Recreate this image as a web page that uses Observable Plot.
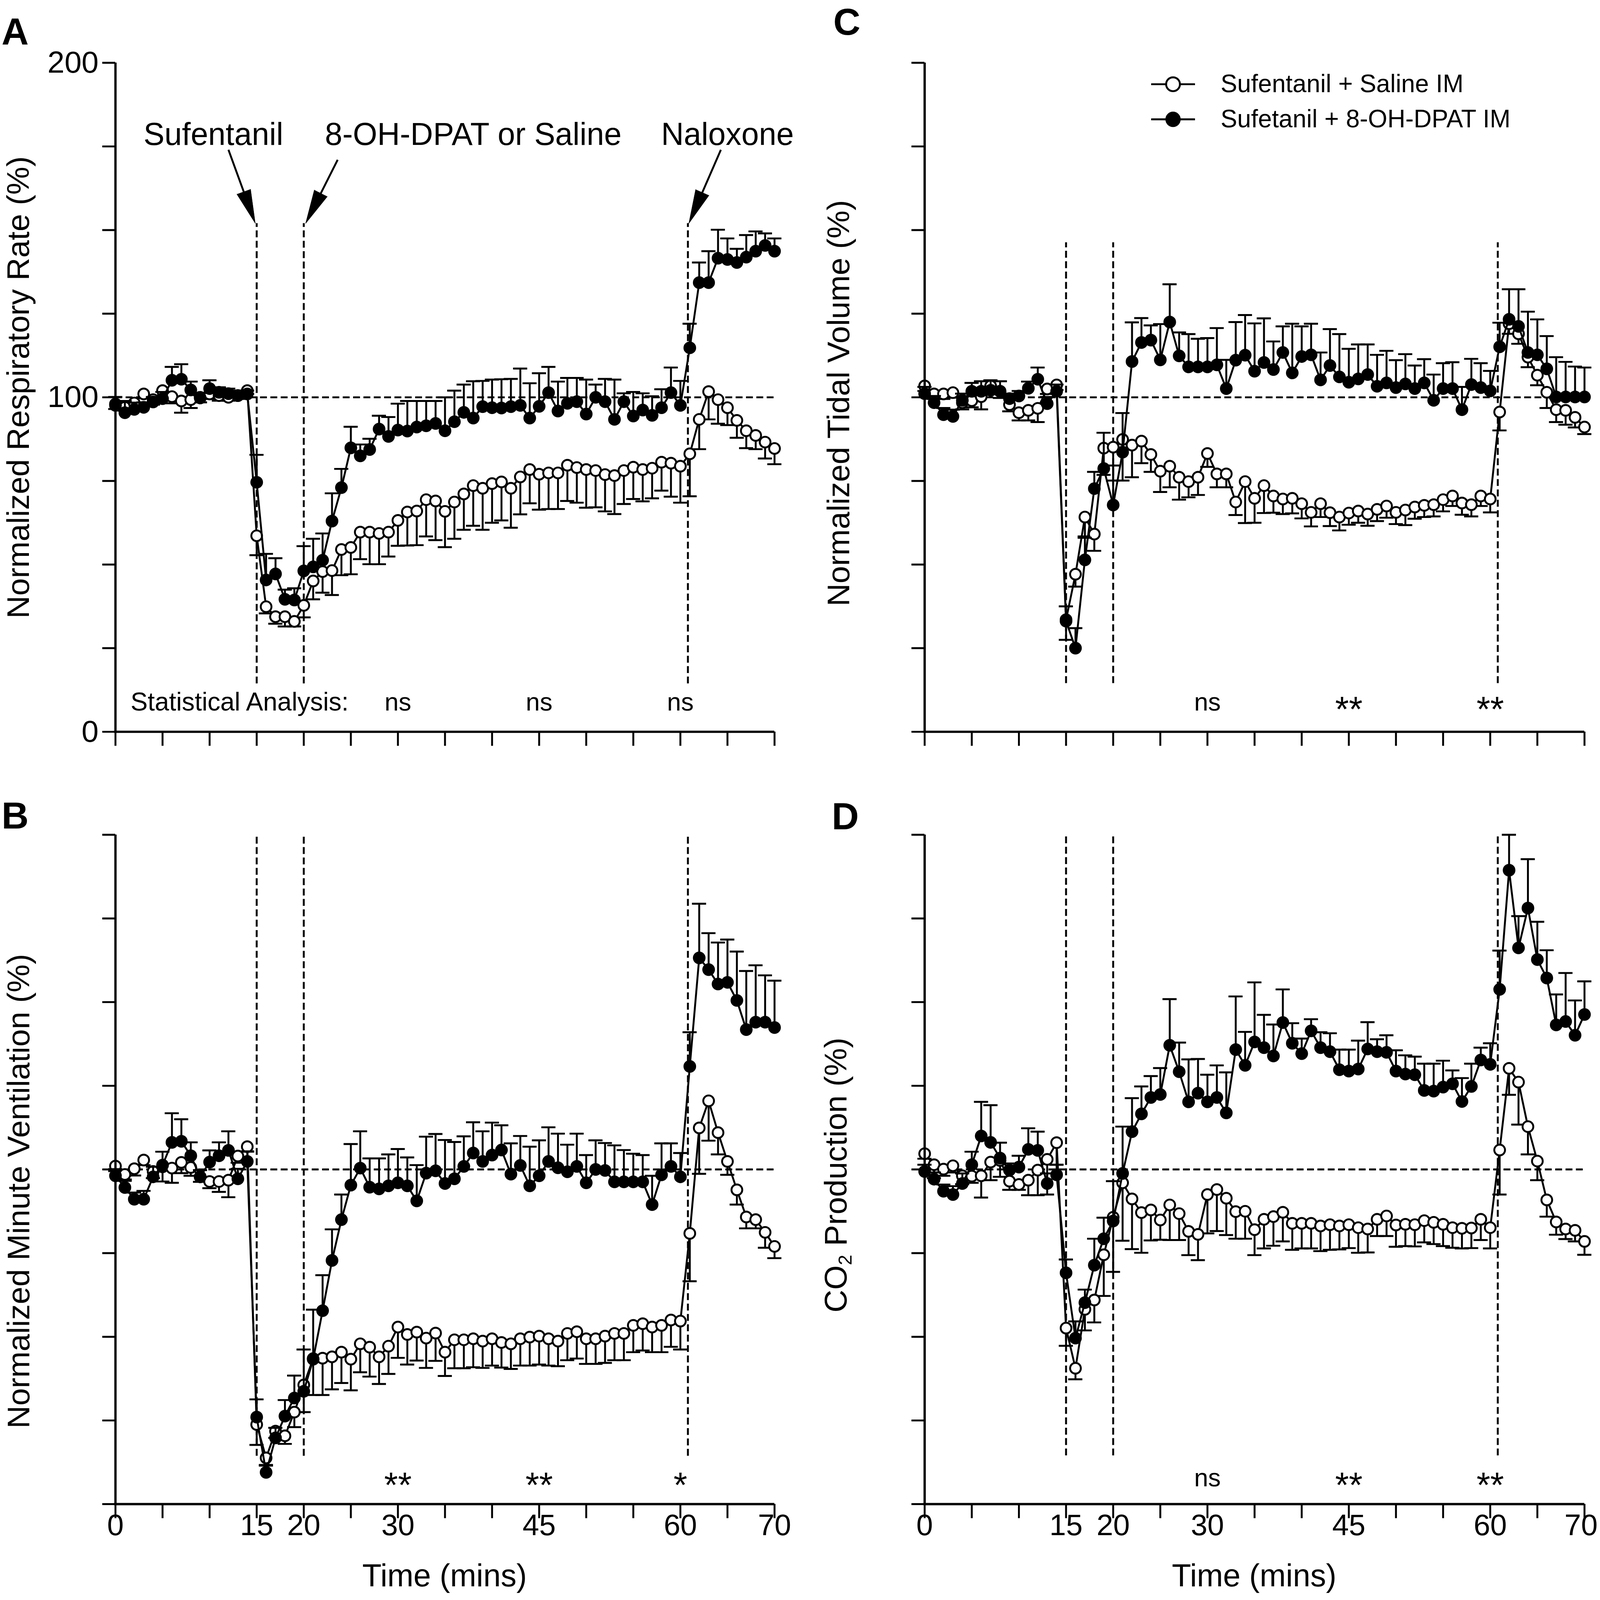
<!DOCTYPE html>
<html><head><meta charset="utf-8">
<script src="https://cdn.jsdelivr.net/npm/d3@7"></script>
<script src="https://cdn.jsdelivr.net/npm/@observablehq/plot@0.6"></script>
<style>
html,body{margin:0;padding:0;background:#fff;overflow:hidden;}
#fig{position:absolute;left:0;top:0;width:4178px;height:4164px;background:#fff;font-family:"Liberation Sans",Arial,Helvetica,sans-serif;color:#000;overflow:hidden;transform-origin:0 0;}
.panel{position:absolute;}
.letter{position:absolute;font-weight:bold;font-size:98px;line-height:1;}
.ytitle{position:absolute;font-size:82px;line-height:1;white-space:nowrap;transform:translate(-50%,-50%) rotate(-90deg);}
.xtitle{position:absolute;font-size:82px;line-height:1;white-space:nowrap;transform:translate(-50%,-50%);}
.sub{font-size:0.6em;vertical-align:-0.28em;}
</style></head>
<body><div id="fig">
<div class="letter" style="left:4px;top:33px">A</div>
<div class="letter" style="left:2176px;top:7px">C</div>
<div class="letter" style="left:4px;top:2073px">B</div>
<div class="letter" style="left:2172px;top:2075px">D</div>
<div class="ytitle" style="left:47px;top:1008px">Normalized Respiratory Rate (%)</div>
<div class="ytitle" style="left:2190px;top:1049px">Normalized Tidal Volume (%)</div>
<div class="ytitle" style="left:48px;top:3100px">Normalized Minute Ventilation (%)</div>
<div class="ytitle" style="left:2186px;top:3058px">CO<span class="sub">2</span> Production (%)</div>
<div class="xtitle" style="left:1161px;top:4100px">Time (mins)</div>
<div class="xtitle" style="left:3275px;top:4100px">Time (mins)</div>
</div>
<script>
// ---------- data ----------
const time = [0,1,2,3,4,5,6,7,8,9,10,11,12,13,14,15,16,17,18,19,20,21,22,23,24,25,26,27,28,29,30,31,32,33,34,35,36,37,38,39,40,41,42,43,44,45,46,47,48,49,50,51,52,53,54,55,56,57,58,59,60,61,62,63,64,65,66,67,68,69,70];
const xTicks = [0,5,10,15,20,25,30,35,40,45,50,55,60,65,70];
const xTickLabels = [0,15,20,30,45,60,70];
const yTicks = [0,25,50,75,100,125,150,175,200];
const yTickLabels = [0,100,200];
const seriesNames = ["Sufentanil + Saline IM", "Sufetanil + 8-OH-DPAT IM"];
const eventTimes = [15, 20, 60.8];

// A: respiratory rate
const aSal = [98,97,98.3,101,99.3,102,100.2,98.9,99.3,100,101,100.5,100,100.5,102,
 58.6,37.4,34.4,34.4,33,
 37.8,45.1,47.9,48.2,54.5,55.1,59.7,59.7,59.3,59.7,
 63.2,65.7,66,69.4,69,65.9,68.7,71.1,73.6,72.8,
 74.2,74.7,72.8,76.2,78.4,77,77.4,77.4,79.7,79,
 78.4,78.1,76.9,76.6,78.1,79.1,78.4,78.8,80.6,80.3,
 79.4,83.1,93.4,101.7,99.3,96.9,93.1,90,88.6,86.6,84.7];
const aSalErr = [1.5,1,1,1,1.5,1.5,2,3.5,2.5,1.5,1.5,1.5,1,1,1,
 5.8,2,2.1,2.9,1.5,
 3.6,5.5,6.3,7.3,7.7,8,8.1,9.6,9.2,7.3,
 7.6,10,10.2,11,11.7,10.7,11,10.7,12,12.4,
 11.7,11.5,11.8,11.2,10.1,10.6,10.8,10.8,10.7,10.5,
 11.4,11,11,11.5,10,9.5,9.5,9,8.5,10,
 10.9,12.7,8.9,8.3,7.2,5.2,5.2,5.2,4.1,4.9,4.7];
const aDpat = [97.6,95.4,96.4,97,98.6,99.6,105.1,105.4,102.2,99.8,102.6,101.5,101.1,100.5,101,
 74.6,45.4,47.2,39.6,39.4,
 48.1,49.3,51.3,63,73,84.9,82.5,84.4,90.5,88.3,
 90.2,89.9,91.1,91.5,92.2,90,92.7,95.5,93.8,97.2,
 96.9,96.8,97.2,97.6,93.8,97.3,101.4,95.9,98.2,98.7,
 95,100,98.7,93.4,98.7,94.4,96.2,94.6,96.9,101.4,
 97.6,114.8,134.3,134.3,141.6,141.2,140.3,141.9,143.7,145.4,143.7];
const aDpatErr = [2.5,3.5,2,1.5,1.5,2,4,4.5,2.5,1.5,2.5,1.5,1.5,1.5,1,
 8.2,7.8,4.7,2.9,3.5,
 7.4,8.4,8,8.3,5.6,6.3,3.4,3.2,4,5.8,
 7.9,9,7.8,7.4,6.7,10,9.3,8.3,11,7.7,
 8.4,8.6,8.3,11,10.4,9.9,7.7,8.8,7.6,7.1,
 10.3,3.8,6.8,11.9,2.5,7.2,5,5.7,5.5,7.5,
 7.3,7.2,6,9.4,8.5,6.3,4.1,6.6,5.9,3.6,3.8];

// B: minute ventilation
const bSal = [101,98.5,100.2,102.8,99.4,100.8,100.4,102.1,100.6,97.8,96.4,96.4,96.8,104,106.8,
 23.8,13.8,21.8,20.4,27.5,
 35.6,43.5,43.6,44,45.4,43.3,47.9,46.9,44,47.2,
 52.9,50.7,51.4,49.6,51.1,45.4,49.1,49.1,49.4,48.7,
 49.4,48.3,47.9,49.4,49.9,50.2,49.4,48.7,51,51.5,
 49.4,49.4,50.2,51,51,53.4,53.9,52.9,53.4,55,
 54.7,80.9,112.4,120.5,111,102.4,93.9,85.8,85,81.2,77];
const bSalErr = [1.5,1.5,2,1.5,2,4.4,4.4,3.2,2.5,1.5,2,3.1,5.1,2,1.5,
 6.1,2.1,2,2.4,4.5,
 8.1,10.9,11,9.7,9.2,9.3,8.5,8.8,8.1,8.3,
 9.2,9,8.5,8.9,8.3,7.1,8.5,8.5,8.5,8,
 8,7.5,7.5,8,8.5,8.5,8,7.5,8,8,
 7.5,7.5,8,8,8,8,8,7.5,8,8,
 8.5,14.3,13.7,11.9,6.5,4,4.4,3.4,2.6,4.6,3.5];
const bDpat = [98.1,94.6,91.1,91.1,97.8,101.3,108.1,108.4,104.1,97.8,102.2,104.1,105.7,97.2,102.4,
 26,9.5,19.8,26.3,31.7,
 33.7,43.3,57.8,72.8,85,95.3,100.4,94.7,94.2,95.1,
 96,95.1,90.6,98.9,99.6,95.8,97.2,100.9,104.9,102.4,
 104.3,105.8,98.6,101.2,95.1,98.1,102.4,100.5,99.3,100.9,
 96,100,99.7,96.3,96.3,96.3,96.3,89.5,98.4,100.9,
 97.8,130.8,163.2,159.7,155.4,155.9,150.5,141.8,144,144,142.4];
const bDpatErr = [2,2,2,2.5,3,4,8.7,6.6,4,2,3.5,4,5.7,3,3,
 5.3,2,3,4.8,6.7,
 12.5,14.8,10.6,9.3,7.5,12.3,11,8.6,9.1,9.4,
 10.1,8.5,10.7,10.9,11,13,11,9,9.2,9,
 9.7,7.4,9.2,8.8,11.7,10.6,10.2,10.2,8.1,9.8,
 8.3,8.7,8.2,10.9,9.5,8.4,8,8.6,9.4,6.9,
 7.1,10.2,16.2,10.9,12.4,12.8,14.6,17.5,17,14,14];

// C: tidal volume
const cSal = [103.4,101,101,101.4,98.4,99,100.2,103.4,101.8,97.8,95.4,96.1,96.7,102.5,103.7,
 33.5,47.1,64.2,59.1,84.8,
 85.1,87.4,85.7,86.9,82.9,77.9,79.4,76.1,74.8,76.1,
 83.2,77.1,77.1,68.7,74.8,69.8,73.6,70.5,69.6,69.8,
 68.2,65.6,68.2,65.5,64.2,65.4,66,65.1,66.5,67.5,
 65.6,66.3,67.2,67.7,67.9,69.4,70.5,68.4,67.9,70.5,
 69.6,95.6,122,119,112,106.6,101.5,96.3,96.1,94,91.1];
const cSalErr = [1.5,1.5,1.5,1.5,2,2,3.8,2.5,2,2,2.3,3,4.1,1.5,1.5,
 6,3.7,5.8,5,8,
 10,12.3,9.6,6.6,5.2,6.2,6.3,6.7,4.7,5.3,
 4,4,4,3.9,12.4,7.3,8.2,5,4.5,4.5,
 4.4,4.2,4,4,4,3.5,3.5,3.5,3.5,3.5,
 3.5,4.5,3.5,3.5,3.5,3.5,3,3.5,3.5,3,
 4,5.5,3,3,3,3,4.7,3.7,4.3,3,2.1];
const cDpat = [101.1,98.4,94.8,94.3,99.1,101.8,101.8,102.1,101.8,99.6,100.4,102.7,105.4,98.1,101.8,
 33.1,25,51.4,72.7,78.7,
 67.8,83.6,110.7,116.4,117.1,111.2,122.5,112.4,109.1,109.1,
 109.1,109.7,102.6,111.1,112.6,107.8,110.4,108.3,113.4,107.3,
 112.2,112.7,105.2,109.5,106.1,104.5,105.5,106.8,103.3,104.3,
 102.9,104,102.6,104.3,99.1,102.6,102.6,96.3,103.8,102.9,
 101.9,115.1,123.3,121.2,113.4,112.7,108.5,100.1,100.1,100.1,100.1];
const cDpatErr = [2,2,2,2,2,2.5,3,3,3,1.5,1.5,2,3.5,2,2,
 4.4,6,6.6,5,10.7,
 11.8,11.7,11.7,7.3,4.4,10.7,11.3,7,9.8,8.4,
 8.6,11,8.6,11.4,12,14.3,13.2,8.4,7.8,14.7,
 9,9.3,8.2,10.9,12.8,10,10.3,9,9.4,9.6,
 8.2,8.9,6.9,7.1,7.7,7.6,7.9,6.8,7.7,7.3,
 6,7.2,9,11.1,12.2,10.6,9.8,11.9,10.5,9.1,8.8];

// D: CO2 production
const dSal = [104.7,101.4,100.1,101.1,98.1,98,98.1,102.2,102.7,96.5,95.5,96.8,99.8,103,108,
 52.6,40.6,58.2,61,74.5,
 85.7,96,91.2,87.1,87.9,84.9,89.4,86.8,81.5,80.6,
 92.5,94,91.4,87.4,87.5,82,85.1,85.9,87.2,83.9,
 83.9,83.9,83.1,83.5,83.1,83.5,82.6,82.2,85.1,86.1,
 83.4,83.6,83.5,84.7,84.2,83.6,82.6,82.4,82.5,85.1,
 82.6,105.8,130.2,126.1,112.8,102.5,90.9,84.3,82.2,81.8,78.5];
const dSalErr = [1.5,4,2,2,2.5,2,6.5,5.4,4.9,2.6,1.6,4.5,7.5,10.5,6.6,
 5.3,3.3,6.3,6.7,12.3,
 16.3,17.3,15,12,9.1,5.9,10.5,7.9,7.1,7.7,
 11.6,12.4,11,8.1,8.2,7.6,8.7,8.7,8.7,7.9,
 7.5,7.5,7.5,7.5,7,7,7.5,7,5,6,
 6.5,6.5,6.5,6.5,6.5,6.5,6,6,6,6.2,
 6.2,13.3,7.9,12.7,8.3,5.7,5,3.8,3,3.3,4];
const dDpat = [99.4,97.1,93.5,92.5,95.8,101.4,110,108.1,103.4,99.8,100.7,106,105.7,95.8,98.4,
 69.1,49.6,60.2,71.4,79.3,
 84.6,98.8,111.3,116.6,121.5,122.4,137.1,129.2,120.2,122.8,
 120.2,121.5,116.9,135.8,131.1,138.1,136.4,133.9,143.9,137.7,
 134.6,141.4,136.4,135.2,129.8,129.4,130,136,135.2,135,
 129.4,128.5,128.3,123.6,123.4,124.6,125.6,120.3,124.8,132.7,
 131.4,153.8,189.4,166.2,178.1,162.7,157.2,143.2,144.2,140.1,146.3];
const dDpatErr = [2,2,2,2.5,3,3.9,10.2,11.1,4.6,2,3.4,6.3,5.6,3,3,
 4,5,3.9,7.9,6.3,
 11.9,14,10,8.2,6.4,7.9,13.8,8.7,12.7,10.2,
 8.1,9.6,12.1,15.9,10,17.8,9.8,9.4,9.9,6,
 4.5,3.5,4.6,5.5,6,6.4,8.5,8,3.7,5.1,
 6.2,5.6,5.4,8,8.2,7.9,4,7,6.8,3.7,
 6.3,11.6,10.6,9.5,14.6,11.3,8.3,9.1,14.5,10.4,9.9];

// statistics labels
const statTimes = [30, 45, 60];
const statA = ["ns","ns","ns"];
const statB = ["**","**","*"];
const statC = ["ns","**","**"];
const statD = ["ns","**","**"];
const statTitle = "Statistical Analysis:";

// annotations (panel A)
const eventLabels = ["Sufentanil", "8-OH-DPAT or Saline", "Naloxone"];
const eventLabelX = [10.4, 38.0, 65.0];
const eventLabelY = 178.5;
const arrowFrom = [[12.0,174],[23.6,171],[64.3,174]];
const arrowTo = [[14.85,152],[20.2,152],[60.9,152]];

// ---------- drawing ----------
const FONT = '"Liberation Sans", Arial, Helvetica, sans-serif';
const DASH = "18,9";
const fig = document.getElementById("fig");

function panel(o) {
  const rows = (vals, errs, dir) => time.map((t, i) => ({t, v: vals[i], e: vals[i] + dir * errs[i]}));
  const S = rows(o.sal, o.salErr, -1);
  const D = rows(o.dpat, o.dpatErr, +1);
  const kx = (o.w - o.ml - o.mr) / 70, ky = (o.h - o.mt - o.mb) / 200;
  const vl = eventTimes.map(x => ({x, y1: o.vTop[1], y2: o.vTop[0]}));
  const stat = statTimes.map((x, i) => ({x, s: o.stat[i]}));
  const lastX = xTicks[xTicks.length - 1];
  const marks = [
    Plot.ruleY([100], {x1: 0, x2: 70, stroke: "black", strokeWidth: 5, strokeDasharray: DASH}),
    Plot.ruleX(vl, {x: "x", y1: "y1", y2: "y2", stroke: "black", strokeWidth: 5, strokeDasharray: DASH}),
    // saline series (open)
    Plot.ruleX(S, {x: "t", y1: "v", y2: "e", stroke: "black", strokeWidth: 5}),
    Plot.ruleY(S, {y: "e", x1: d => d.t - 0.75, x2: d => d.t + 0.75, stroke: "black", strokeWidth: 5}),
    Plot.line(S, {x: "t", y: "v", stroke: "black", strokeWidth: 5}),
    Plot.dot(S, {x: "t", y: "v", r: 14, fill: "white", stroke: "black", strokeWidth: 5}),
    // 8-OH-DPAT series (filled)
    Plot.ruleX(D, {x: "t", y1: "v", y2: "e", stroke: "black", strokeWidth: 5}),
    Plot.ruleY(D, {y: "e", x1: d => d.t - 0.75, x2: d => d.t + 0.75, stroke: "black", strokeWidth: 5}),
    Plot.line(D, {x: "t", y: "v", stroke: "black", strokeWidth: 5}),
    Plot.dot(D, {x: "t", y: "v", r: 16.5, fill: "black", stroke: "none"}),
    // stats
    Plot.text(stat.filter(d => d.s === "ns"), {x: "x", y: o.statY, text: "s", fontSize: 66, fill: "black"}),
    Plot.text(stat.filter(d => d.s !== "ns"), {x: "x", y: o.starY, text: "s", fontSize: 92, fill: "black", dy: 20}),
    // axes
    Plot.ruleX([0], {y1: 0, y2: 200, stroke: "black", strokeWidth: 6}),
    Plot.ruleY([0], {x1: -0.12, x2: 70, stroke: "black", strokeWidth: 6}),
    Plot.axisY({ticks: yTicks, tickSize: 34, tickPadding: 10, strokeWidth: 5, fontSize: 80, label: null,
      tickFormat: d => (o.yLabels && yTickLabels.includes(d)) ? String(d) : ""}),
    Plot.axisX({ticks: xTicks, tickSize: 37, tickPadding: -12, strokeWidth: 5, fontSize: 78, label: null,
      tickFormat: d => (o.xLabels && xTickLabels.includes(d) && !(o.nudgeLast && d === lastX)) ? String(d) : ""})
  ];
  if (o.xLabels && o.nudgeLast) {
    // last tick label at the right page edge, nudged a few px inward so it is not clipped
    marks.push(Plot.axisX({ticks: [lastX], tickSize: 0, tickPadding: 25, dx: -9, fontSize: 78, label: null,
      tickFormat: d => String(d)}));
  }
  if (o.annotate) {
    const arr = arrowFrom.map((f, i) => {
      const to = arrowTo[i];
      const dxp = (to[0] - f[0]) * kx, dyp = -(to[1] - f[1]) * ky;
      return {x1: f[0], y1: f[1], x2: f[0] + (to[0] - f[0]) * 0.8, y2: f[1] + (to[1] - f[1]) * 0.8,
              tx: to[0], ty: to[1], rot: Math.atan2(dxp, -dyp) * 180 / Math.PI};
    });
    const labs = eventLabels.map((s, i) => ({s, x: eventLabelX[i], y: eventLabelY}));
    marks.push(
      Plot.link(arr, {x1: "x1", y1: "y1", x2: "x2", y2: "y2", stroke: "black", strokeWidth: 5}),
      ...arr.map(a => Plot.vector([a], {x: "tx", y: "ty", rotate: a.rot, length: 88, r: 19, shape: "spike", anchor: "end", fill: "black", stroke: "black", strokeWidth: 1})),
      Plot.text(labs, {x: "x", y: "y", text: "s", fontSize: 82, fill: "black"}),
      Plot.text([statTitle], {x: 1.6, y: o.statY, text: d => d, textAnchor: "start", fontSize: 67, fill: "black"})
    );
  }
  if (o.legend) {
    const leg = seriesNames.map((s, i) => ({s, y: [193.6, 183.1][i]}));
    marks.push(
      Plot.ruleY(leg, {y: "y", x1: 24.05, x2: 28.7, stroke: "black", strokeWidth: 5}),
      Plot.dot([leg[0]], {x: 26.35, y: "y", r: 18, fill: "white", stroke: "black", strokeWidth: 5}),
      Plot.dot([leg[1]], {x: 26.35, y: "y", r: 20, fill: "black"}),
      Plot.text(leg, {x: 31.4, y: "y", text: "s", textAnchor: "start", fontSize: 65, fill: "black"})
    );
  }
  const svg = Plot.plot({
    width: o.w, height: o.h, marginLeft: o.ml, marginRight: o.mr, marginTop: o.mt, marginBottom: o.mb,
    x: {domain: [0, 70]}, y: {domain: [0, 200]},
    style: {fontFamily: FONT, background: "transparent", overflow: "visible", color: "black"},
    marks
  });
  svg.classList.add("panel");
  svg.style.left = o.left + "px";
  svg.style.top = o.top + "px";
  svg.style.position = "absolute";
  svg.style.maxWidth = "none";
  fig.appendChild(svg);
}

panel({left: 0, top: 0, w: 2089, h: 2000, ml: 301, mr: 67, mt: 163, mb: 96,
  sal: aSal, salErr: aSalErr, dpat: aDpat, dpatErr: aDpatErr, yLabels: true, xLabels: false,
  vTop: [152, 14.4], stat: statA, statY: 8.8, starY: 8.8, annotate: true});
panel({left: 2089, top: 0, w: 2089, h: 2000, ml: 325, mr: 41, mt: 163, mb: 96,
  sal: cSal, salErr: cSalErr, dpat: cDpat, dpatErr: cDpatErr, yLabels: false, xLabels: false,
  vTop: [146.3, 14.5], stat: statC, statY: 8.8, starY: 8.8, legend: true});
panel({left: 0, top: 2000, w: 2089, h: 2164, ml: 301, mr: 67, mt: 172, mb: 250,
  sal: bSal, salErr: bSalErr, dpat: bDpat, dpatErr: bDpatErr, yLabels: false, xLabels: true,
  vTop: [200, 14.4], stat: statB, statY: 7.7, starY: 7.7});
panel({left: 2089, top: 2000, w: 2089, h: 2164, ml: 325, mr: 41, mt: 172, mb: 250,
  sal: dSal, salErr: dSalErr, dpat: dDpat, dpatErr: dDpatErr, yLabels: false, xLabels: true,
  vTop: [200, 14.5], stat: statD, statY: 7.7, starY: 7.7, nudgeLast: true});

// fit the 4178 x 4164 figure into the actual viewport
function fit() {
  const vw = document.documentElement.clientWidth || window.innerWidth;
  const vh = window.innerHeight || document.documentElement.clientHeight;
  const sx = Math.min(1, vw / 4178), sy = Math.min(1, vh / 4164);
  fig.style.transform = `scale(${sx}, ${sy})`;
}
fit();
</script>
</body></html>
